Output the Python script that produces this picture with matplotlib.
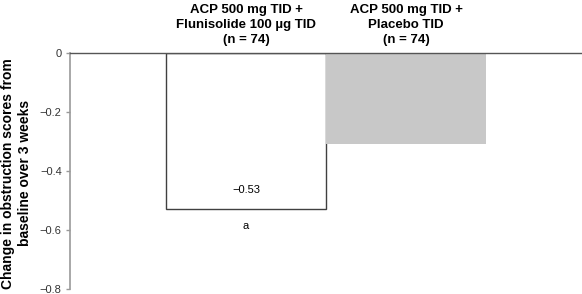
import matplotlib
matplotlib.use("Agg")
import matplotlib.pyplot as plt

groups = ["ACP 500 mg TID +\nFlunisolide 100 µg TID\n(n = 74)",
          "ACP 500 mg TID +\nPlacebo TID\n(n = 74)"]
values = [-0.53, -0.31]
value_labels = ["\u22120.53", None]
sig_labels = ["a", None]
yticks = [0, -0.2, -0.4, -0.6, -0.8]
ytick_labels = ["0", "\u22120.2", "\u22120.4", "\u22120.6", "\u22120.8"]

plt.rcParams['font.family'] = ['Liberation Sans', 'DejaVu Sans']

fig = plt.figure(figsize=(5.82, 2.94), dpi=100)
ax = fig.add_axes([70/582, 1-289/294, 1-70/582, (289-53)/294])

x = list(range(len(values)))
ax.bar(x[0], values[0], width=1.0, color="white", edgecolor="#404040", linewidth=1.0)
ax.bar(x[1], values[1], width=1.0, color="#c8c8c8", edgecolor="none")

ax.set_xlim(-1.1, 2.1)
ax.set_ylim(-0.8, 0)
ax.set_yticks(yticks)
ax.set_yticklabels(ytick_labels, fontsize=8, color="#333333")
ax.set_xticks([])

for s in ["right", "bottom"]:
    ax.spines[s].set_visible(False)
ax.spines["left"].set_color("#999999")
ax.spines["left"].set_linewidth(1.2)
ax.spines["top"].set_color("#555555")
ax.spines["top"].set_linewidth(1.0)
ax.tick_params(axis="y", length=3, width=1, color="#999999", pad=3)

for i, (v, vl, sl) in enumerate(zip(values, value_labels, sig_labels)):
    if vl:
        ax.text(i, v + 0.066, vl, ha="center", va="center", fontsize=8)
    if sl:
        ax.text(i, v - 0.055, sl, ha="center", va="center", fontsize=8)

for i, g in enumerate(groups):
    ax.text(i, 0.024, g, ha="center", va="bottom", fontsize=9.5, fontweight="bold",
            linespacing=1.33, clip_on=False)

ax.set_ylabel("Change in obstruction scores from\nbaseline over 3 weeks", fontsize=10,
              fontweight="bold", linespacing=1.25)
ax.yaxis.set_label_coords(-0.075, 0.49)

fig.savefig("out.png", dpi=100)
